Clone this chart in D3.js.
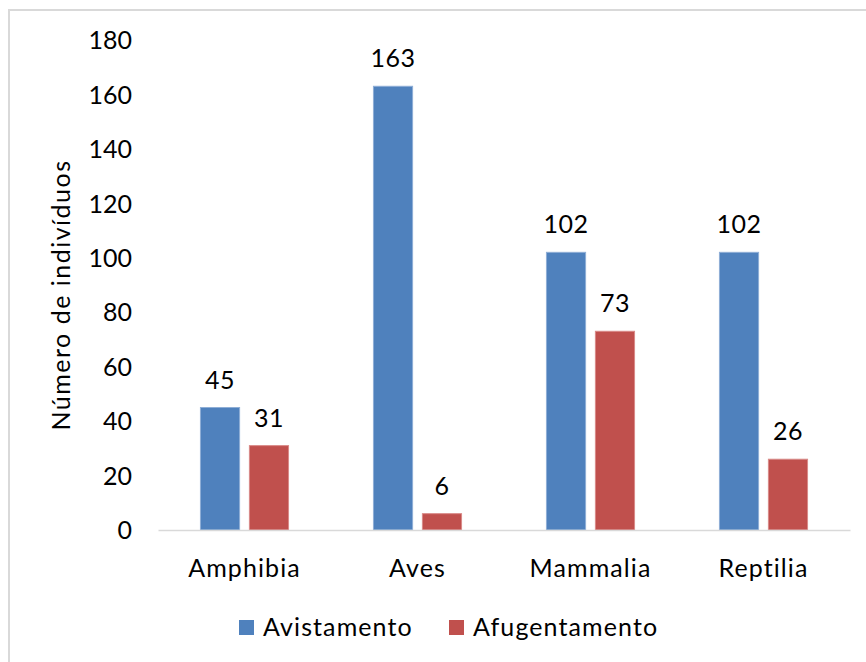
<!DOCTYPE html>
<html>
<head>
<meta charset="utf-8">
<script src="https://cdn.jsdelivr.net/npm/d3@7"></script>
<style>
  html, body { margin: 0; padding: 0; background: #fff; }
  svg { display: block; }
  text { font-family: Lato, "Open Sans", sans-serif; fill: #000; }
</style>
</head>
<body>
<svg id="chart" width="866" height="662"></svg>
<script>
// Número de indivíduos por classe
const categories = ["Amphibia", "Aves", "Mammalia", "Reptilia"];
const seriesNames = ["Avistamento", "Afugentamento"];
const avistamento = [45, 163, 102, 102];
const afugentamento = [31, 6, 73, 26];
const yTicks = [0, 20, 40, 60, 80, 100, 120, 140, 160, 180];
const yTitle = "Número de indivíduos";

const colors = { "Avistamento": "#4F81BD", "Afugentamento": "#C0504D" };
const strokes = { "Avistamento": "#8EAED6", "Afugentamento": "#D98A88" };

const rows = categories.map((c, i) => ({
  category: c,
  values: [
    { key: "Avistamento", value: avistamento[i] },
    { key: "Afugentamento", value: afugentamento[i] }
  ]
}));

const svg = d3.select("#chart");
const W = 866, H = 662;
const plot = { left: 158, right: 850, top: 40, bottom: 530 };
const FS = 25;

// outer frame
svg.append("rect")
  .attr("x", 9).attr("y", 10)
  .attr("width", W + 20).attr("height", H + 20)
  .attr("fill", "#fff")
  .attr("stroke", "#d9d9d9").attr("stroke-width", 2);

const x0 = d3.scaleBand().domain(categories).range([plot.left, plot.right]).padding(0);
const x1 = d3.scaleBand().domain(seriesNames).range([0, x0.bandwidth()])
  .paddingInner(0.2).paddingOuter(0.867);
const y = d3.scaleLinear().domain([0, 180]).range([plot.bottom, plot.top]);

// y axis (labels only)
const yAxis = d3.axisLeft(y).tickValues(yTicks).tickSize(0).tickPadding(0);
const gy = svg.append("g").attr("transform", `translate(132,0)`).call(yAxis);
gy.select(".domain").remove();
gy.selectAll("text")
  .attr("font-size", FS).attr("font-family", "Lato, sans-serif")
  .attr("fill", "#000").attr("dy", "0.35em").attr("x", 0);

// bars
const groups = svg.append("g").selectAll("g").data(rows).join("g")
  .attr("transform", d => `translate(${x0(d.category)},0)`);

groups.selectAll("rect").data(d => d.values).join("rect")
  .attr("x", d => x1(d.key))
  .attr("y", d => y(d.value))
  .attr("width", x1.bandwidth())
  .attr("height", d => y(0) - y(d.value))
  .attr("fill", d => colors[d.key])
  .attr("stroke", d => strokes[d.key])
  .attr("stroke-width", 1);

// value labels
groups.selectAll("text.val").data(d => d.values).join("text")
  .attr("class", "val")
  .attr("x", d => x1(d.key) + x1.bandwidth() / 2)
  .attr("y", d => y(d.value) - 19)
  .attr("text-anchor", "middle")
  .attr("font-size", FS)
  .attr("letter-spacing", 0.5)
  .text(d => d.value);

// x axis baseline and category labels
const xAxis = d3.axisBottom(x0).tickSize(0).tickPadding(0);
const gx = svg.append("g").attr("transform", `translate(0,${plot.bottom})`).call(xAxis);
gx.select(".domain").attr("stroke", "#d9d9d9").attr("stroke-width", 1.5);
gx.selectAll("text")
  .attr("font-size", FS).attr("font-family", "Lato, sans-serif")
  .attr("letter-spacing", 1.1)
  .attr("fill", "#000").attr("y", 47).attr("dy", 0);

// y axis title
svg.append("text")
  .attr("transform", `translate(70,295) rotate(-90)`)
  .attr("text-anchor", "middle")
  .attr("font-size", FS)
  .attr("letter-spacing", 1.5)
  .text(yTitle);

// legend
const legendItems = [
  { key: "Avistamento", x: 239 },
  { key: "Afugentamento", x: 449 }
];
const lg = svg.append("g").selectAll("g").data(legendItems).join("g")
  .attr("transform", d => `translate(${d.x},620)`);
lg.append("rect").attr("width", 15).attr("height", 15)
  .attr("fill", d => colors[d.key]);
lg.append("text").attr("x", 24).attr("y", 16)
  .attr("font-size", FS)
  .attr("letter-spacing", 1.1)
  .text(d => d.key);
</script>
</body>
</html>
